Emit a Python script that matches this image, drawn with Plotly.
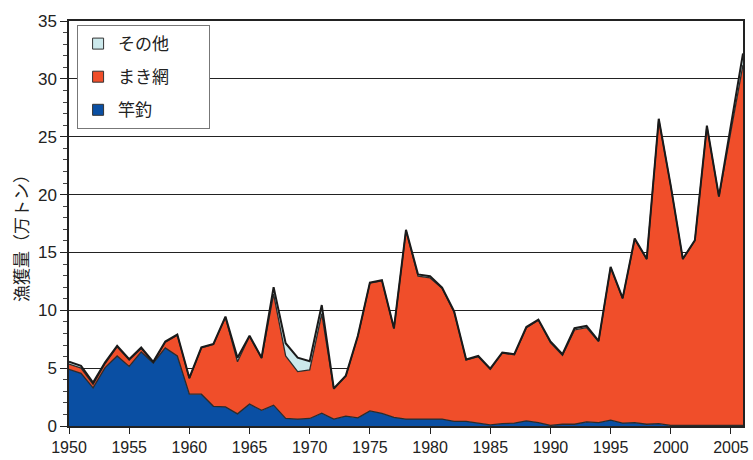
import plotly.graph_objects as go

# 漁獲量（万トン）
years = list(range(1950, 2007))

pole_line = [  # 竿釣
    4.9, 4.55, 3.3, 5.05, 6.05, 5.15, 6.4, 5.45, 6.75, 6.05,
    2.75, 2.75, 1.7, 1.65, 1.05, 1.9, 1.35, 1.8, 0.65, 0.6,
    0.65, 1.1, 0.6, 0.85, 0.7, 1.3, 1.1, 0.75, 0.6, 0.6,
    0.55, 0.6, 0.4, 0.4, 0.25, 0.1, 0.2, 0.25, 0.45, 0.3,
    0.05, 0.15, 0.15, 0.35, 0.3, 0.5, 0.25, 0.3, 0.15, 0.2,
    0.05, 0.05, 0.05, 0.05, 0.05, 0.05, 0.05,
]

purse_seine = [  # まき網
    0.45, 0.45, 0.3, 0.35, 0.8, 0.55, 0.3, 0.05, 0.5, 1.8,
    1.35, 4.0, 5.35, 7.75, 4.5, 5.85, 4.5, 9.6, 5.4, 4.1,
    4.2, 8.6, 2.6, 3.45, 7.05, 11.05, 11.45, 7.65, 16.3, 12.35,
    12.25, 11.3, 9.45, 5.3, 5.75, 4.8, 6.1, 5.9, 8.05, 8.85,
    7.15, 5.95, 8.15, 8.15, 7.0, 13.2, 10.75, 15.85, 14.25, 26.3,
    20.65, 14.35, 15.95, 25.85, 19.75, 25.55, 31.15,
]

others = [  # その他
    0.2, 0.2, 0.15, 0.1, 0.07, 0.08, 0.08, 0.05, 0.05, 0.05,
    0.05, 0.05, 0.05, 0.05, 0.35, 0.05, 0.05, 0.6, 1.1, 1.2,
    0.75, 0.75, 0.05, 0.05, 0.05, 0.05, 0.05, 0.05, 0.05, 0.15,
    0.15, 0.05, 0.05, 0.05, 0.05, 0.05, 0.05, 0.05, 0.05, 0.05,
    0.1, 0.1, 0.15, 0.15, 0.05, 0.05, 0.05, 0.05, 0.05, 0.05,
    0.05, 0.05, 0.05, 0.05, 0.05, 0.4, 1.0,
]

series = [
    ("竿釣", pole_line, "#0a4fa3", dict(color="#2b2b2b", width=1.3)),
    ("まき網", purse_seine, "#f04e2a", dict(color="#2b2b2b", width=1.3)),
    ("その他", others, "#cce9ec", dict(color="#1a1a1a", width=2)),
]

jp_font = "Noto Sans CJK JP"
num_font = "Liberation Sans, Arial, sans-serif"

fig = go.Figure()
for name, vals, color, line in series:
    fig.add_trace(go.Scatter(
        x=years, y=vals, name=name,
        mode="lines", stackgroup="catch",
        line=line, fillcolor=color,
        showlegend=False, hoverinfo="x+y+name",
    ))

# legend entries as little squares, top to bottom like the original
for name, vals, color, line in reversed(series):
    fig.add_trace(go.Scatter(
        x=[None], y=[None], name=name + "\u00a0" * 9, mode="markers",
        marker=dict(symbol="square", size=11, color=color,
                    line=dict(color="#333333", width=1)),
        legendgroup=name,
    ))

fig.update_layout(
    width=753, height=460,
    margin=dict(l=69, r=4, t=21, b=33),
    paper_bgcolor="white", plot_bgcolor="white",
    showlegend=True,
    legend=dict(
        x=0.012, y=0.99, xanchor="left", yanchor="top",
        traceorder="grouped", tracegroupgap=8,
        bgcolor="white", bordercolor="#777777", borderwidth=1,
        font=dict(family=jp_font, size=17, color="#222222"),
        itemwidth=30,
    ),
    font=dict(family=num_font, size=16, color="#222222"),
    annotations=[dict(
        text="漁獲量（万トン）", textangle=-90,
        xref="paper", yref="paper", x=-0.072, y=0.475,
        xanchor="center", yanchor="middle", showarrow=False,
        font=dict(family=jp_font, size=17, color="#222222"),
    )],
)

fig.update_xaxes(
    range=[1950, 2006], tickvals=list(range(1950, 2006, 5)),
    showgrid=False, showline=True, linecolor="#222222", linewidth=1.5,
    mirror=True, ticks="outside", ticklen=6, tickcolor="#222222",
    tickfont=dict(family=num_font, size=16),
)
fig.update_yaxes(
    range=[0, 35], dtick=5,
    showgrid=True, gridcolor="#222222", gridwidth=1,
    showline=True, linecolor="#222222", linewidth=1.5, mirror=True,
    ticks="outside", ticklen=7, tickcolor="#222222",
    minor=dict(dtick=1, ticks="outside", ticklen=4, tickcolor="#444444", showgrid=False),
    tickfont=dict(family=num_font, size=17),
    zeroline=False,
)

# page has a default 8px body margin; drop it so the figure sits at 0,0
fig.write_html("out.html", config={"displayModeBar": False},
               post_script="document.body.style.margin='0px';")
